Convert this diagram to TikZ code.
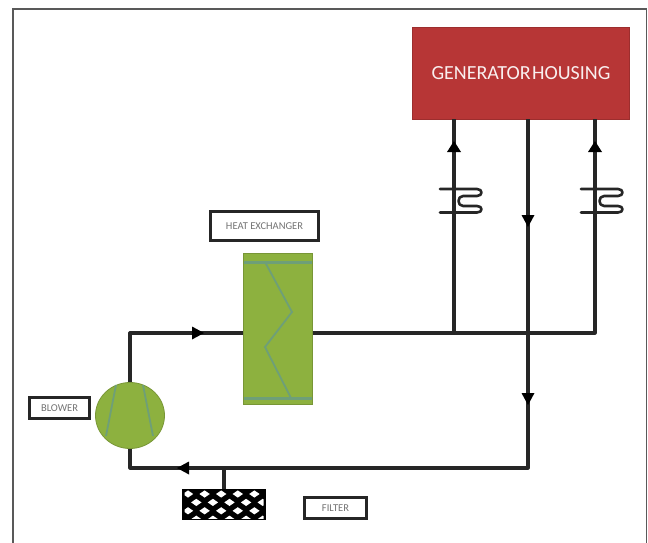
\documentclass[tikz,border=0pt]{standalone}
\usepackage{fontspec}
\setmainfont{Carlito}
\usetikzlibrary{shapes.geometric}
\definecolor{hx}{HTML}{8DB13F}
\definecolor{hxl}{HTML}{6E9F78}
\definecolor{gen}{HTML}{B73636}
\tikzset{
  x=1pt,y=-1pt,
  pipe/.style={line width=3.2pt,black!85,line join=round},
  flow/.style={fill=black,draw=none},
  lbl/.style={draw=black!85,line width=2.2pt,fill=white,inner sep=0pt,font=\fontsize{10.5}{12}\selectfont,text=black!55,align=center},
  inner/.style={hxl,line width=1.8pt},
  band/.style={hxl,line width=3pt},
  green/.style={fill=hx,draw=hx!85!black,line width=.8pt},
  trap/.style={line width=2.6pt,black!85,line join=round,line cap=round}
}
\begin{document}
\begin{tikzpicture}
\useasboundingbox (0,0) rectangle (648,543);
\draw[black!65,line width=1.5pt] (13,543) -- (13,9) -- (646.5,9) -- (646.5,543);
% main components
\node[fill=gen,draw=gen!85!black,line width=1pt,minimum width=217pt,minimum height=91pt,inner sep=0pt,text=white!92!gen,font=\fontsize{20}{22}\selectfont] (gen) at (521,73.5) {GENERATOR\hspace{1.5pt}HOUSING};
\node[green,minimum width=69pt,minimum height=151pt,inner sep=0pt] (hx) at (278,329) {};
\node[ellipse,green,minimum width=69pt,minimum height=66pt,inner sep=0pt] (bl) at (130,415.5) {};
\draw[band] (244,262.5) -- (312,262.5);
\draw[band] (244,398.5) -- (312,398.5);
\draw[inner] (265,262) -- (292,312) -- (265,347) -- (291,398);
\draw[inner] (116,385) -- (106,436);
\draw[inner] (143,385) -- (153,436);
% junctions
\coordinate (j1) at (454,333);
\coordinate (j2) at (528,333);
\coordinate (j3) at (595,333);
\coordinate (c1) at (130,333);
\coordinate (c2) at (130,468);
\coordinate (c3) at (528,468);
\coordinate (ft) at (224,468);
\coordinate (g1) at (454,119);
\coordinate (g2) at (528,119);
\coordinate (g3) at (595,119);
% pipes
\draw[pipe] (bl.north) -- (c1) -- (hx.west |- c1);
\draw[pipe] (hx.east |- j1) -- (j3) -- (g3);
\draw[pipe] (j1) -- (g1);
\draw[pipe] (g2) -- (c3) -- (c2) -- (bl.south);
% filter
\node[draw=black,fill=black,line width=1.2pt,inner sep=0pt,minimum width=82pt,minimum height=30pt] (fl) at (224,504.5) {};
\begin{scope}
\clip (184.5,490.5) rectangle (263.5,518.5);
\foreach \r in {0,1,2,3}{
  \foreach \c in {0,...,5}{
    \pgfmathsetmacro{\cx}{188+16.6*\c+8.3*mod(\r,2)}
    \pgfmathsetmacro{\cy}{494+8.4*\r}
    \fill[white] (\cx-5.2,\cy) -- (\cx,\cy-3.6) -- (\cx+5.2,\cy) -- (\cx,\cy+3.6) -- cycle;
  }
}
\end{scope}
\draw[pipe] (ft) -- (fl.north);
% arrowheads
\fill[flow] (447,152) -- (454,141) -- (461,152) -- cycle;
\fill[flow] (588,152) -- (595,141) -- (602,152) -- cycle;
\fill[flow] (521.5,215) -- (534.5,215) -- (528,227) -- cycle;
\fill[flow] (521.5,393) -- (534.5,393) -- (528,405) -- cycle;
\fill[flow] (192,326.5) -- (204,333) -- (192,339.5) -- cycle;
\fill[flow] (189,461.5) -- (177,468) -- (189,474.5) -- cycle;
% traps
\foreach \x in {454,595}{
  \draw[trap] (\x-14,189) -- (\x+23,189)
    .. controls (\x+29,189) and (\x+29,196) .. (\x+23,196) -- (\x+9,196)
    .. controls (\x+3,196) and (\x+3,206) .. (\x+9,206) -- (\x+23,206)
    .. controls (\x+29,206) and (\x+29,212.5) .. (\x+23,212.5) -- (\x-14,212.5);
}
% labels
\node[lbl,minimum width=108pt,minimum height=29pt] (lh) at (264.5,226) {HEAT EXCHANGER};
\node[lbl,minimum width=60pt,minimum height=21pt] (lb) at (59.5,408) {BLOWER};
\node[lbl,minimum width=62pt,minimum height=21pt] (lf) at (335.5,508) {FILTER};
\end{tikzpicture}
\end{document}
